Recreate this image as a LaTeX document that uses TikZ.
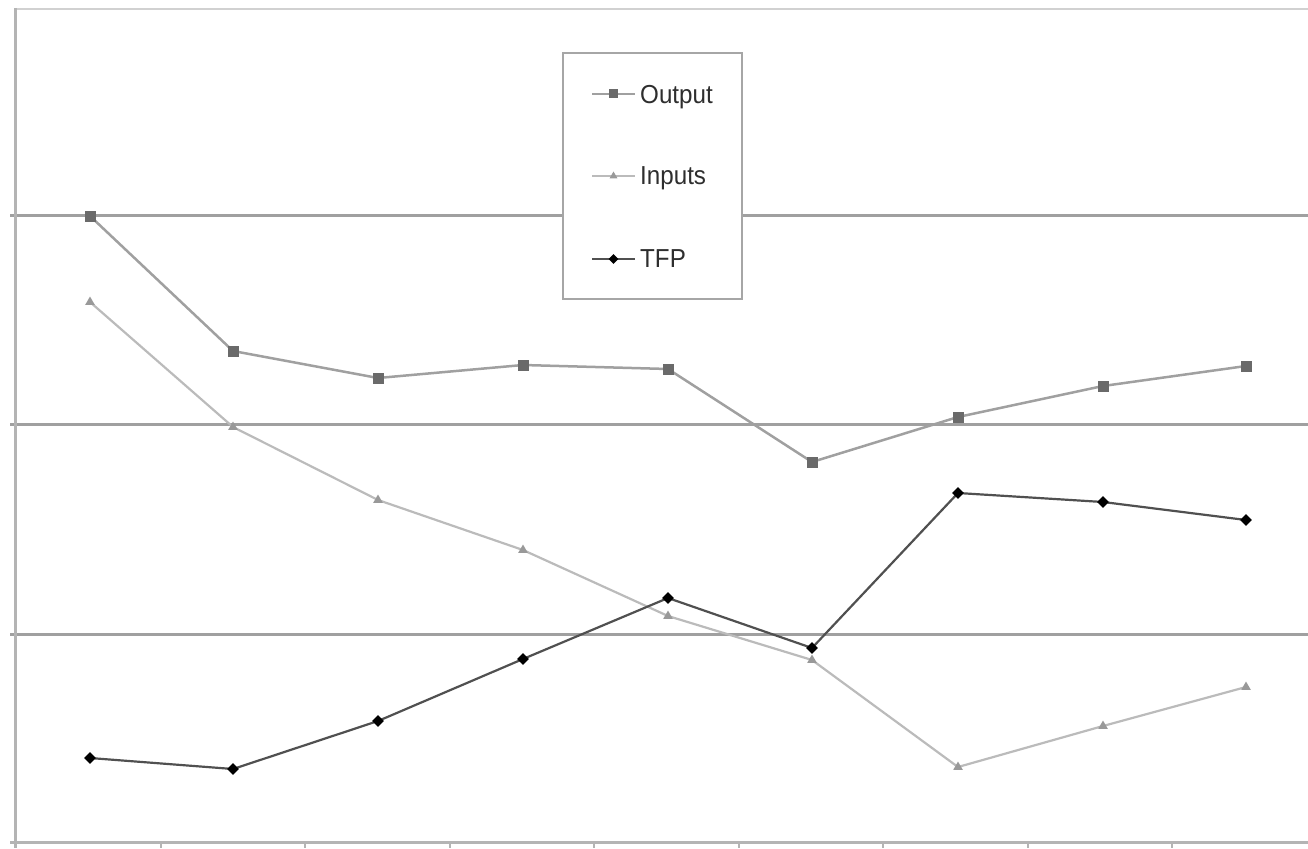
\documentclass[tikz,border=0pt]{standalone}
\usepackage{fontspec}
\setmainfont{Liberation Sans}
\newfontfamily\legfont[FakeStretch=0.93]{Liberation Sans}
\usetikzlibrary{shapes.geometric,calc}
\definecolor{gridc}{HTML}{A0A0A0}
\definecolor{axisc}{HTML}{B4B4B4}
\definecolor{outl}{HTML}{A0A0A0}
\definecolor{outm}{HTML}{6A6A6A}
\definecolor{inl}{HTML}{BBBBBB}
\definecolor{inm}{HTML}{999999}
\definecolor{tfpl}{HTML}{505050}
\tikzset{
  gridline/.style={gridc, line width=3pt},
  axisline/.style={axisc, line width=3pt},
  outline/.style={outl, line width=2.5pt},
  inline/.style={inl, line width=2.2pt},
  tfpline/.style={tfpl, line width=2.2pt},
  outmark/.style={rectangle, fill=outm, minimum size=11pt, inner sep=0pt},
  inmark/.style={regular polygon, regular polygon sides=3, fill=inm, minimum size=11pt, inner sep=0pt},
  tfpmark/.style={diamond, fill=black, minimum size=12pt, inner sep=0pt},
  legtext/.style={anchor=base west, inner sep=0pt, font=\legfont\fontsize{26}{30}\selectfont, text=black!82},
}
\begin{document}
\begin{tikzpicture}[x=1pt,y=-1pt]
\useasboundingbox (0,0) rectangle (1308,848);
% plot frame
\draw[color=black!18, line width=2pt] (15,9) -- (1308,9);
\foreach \yy in {215,424,634} \draw[gridline] (10,\yy) -- (1308,\yy);
\draw[axisline] (15,8) -- (15,848);
\draw[axisline] (10,842) -- (1308,842);
\foreach \k in {1,...,8} \draw[axisc, line width=2pt] (16+144.5*\k,842) -- (16+144.5*\k,848);
% Output
\foreach \n/\x/\y in {o1/90/216,o2/233/351,o3/378/378,o4/523/365,o5/668/369,o6/812/462,o7/958/417,o8/1103/386,o9/1246/366}
  \coordinate (\n) at (\x,\y);
\draw[outline] (o1)--(o2)--(o3)--(o4)--(o5)--(o6)--(o7)--(o8)--(o9);
% Inputs
\foreach \n/\x/\y in {i1/90/302,i2/233/427,i3/378/500,i4/523/550,i5/668/616,i6/812/660,i7/958/767,i8/1103/726,i9/1246/687}
  \coordinate (\n) at (\x,\y);
\draw[inline] (i1)--(i2)--(i3)--(i4)--(i5)--(i6)--(i7)--(i8)--(i9);
% TFP
\foreach \n/\x/\y in {t1/90/758,t2/233/769,t3/378/721,t4/523/659,t5/668/598,t6/812/648,t7/958/493,t8/1103/502,t9/1246/520}
  \coordinate (\n) at (\x,\y);
\draw[tfpline] (t1)--(t2)--(t3)--(t4)--(t5)--(t6)--(t7)--(t8)--(t9);
\foreach \k in {1,...,9} {
  \node[outmark] (mo\k) at (o\k) {};
  \node[inmark] (mi\k) at (i\k) {};
  \node[tfpmark] (mt\k) at (t\k) {};
}
% legend
\draw[fill=white, draw=black!35, line width=2.5pt] (563,53) rectangle (742,299);
\coordinate (la1) at (592,94); \coordinate (lb1) at (635,94);
\coordinate (la2) at (592,176); \coordinate (lb2) at (635,176);
\coordinate (la3) at (592,259); \coordinate (lb3) at (635,259);
\draw[outl, line width=2pt] (la1) -- (lb1);
\node[outmark, minimum size=9pt] (lm1) at ($(la1)!0.5!(lb1)$) {};
\draw[inl, line width=2pt] (la2) -- (lb2);
\node[inmark, minimum size=9pt] (lm2) at ($(la2)!0.5!(lb2)$) {};
\draw[tfpl, line width=2pt] (la3) -- (lb3);
\node[tfpmark, minimum size=10pt] (lm3) at ($(la3)!0.5!(lb3)$) {};
\node[legtext] (lt1) at (640,103) {Output};
\node[legtext] (lt2) at (640,184) {Inputs};
\node[legtext] (lt3) at (640,267) {TFP};
\end{tikzpicture}
\end{document}
